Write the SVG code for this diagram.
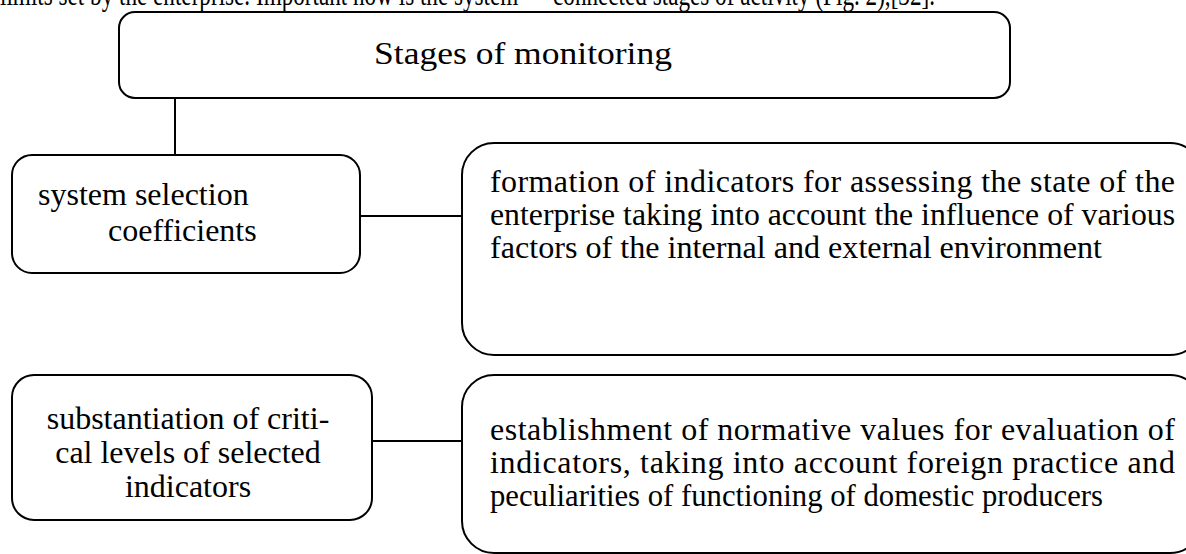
<svg xmlns="http://www.w3.org/2000/svg" width="1186" height="554" viewBox="0 0 1186 554">
<style>
.box{fill:#fff;stroke:#000;stroke-width:2}
.t{font-family:"Liberation Serif","Times New Roman",serif;font-size:32px;fill:#000}
.c{text-anchor:middle}
.ln{stroke:#000;stroke-width:2;fill:none}
</style>
<rect width="1186" height="554" fill="#fff"/>
<text class="t" x="0" y="5" font-size="23" textLength="935" lengthAdjust="spacingAndGlyphs">limits set by the enterprise. Important now is the system — connected stages of activity (Fig. 2),[32].</text>
<g id="connectors">
<line class="ln" x1="175" y1="98" x2="175" y2="155"/>
<line class="ln" x1="360" y1="216" x2="462" y2="216"/>
<line class="ln" x1="372" y1="441" x2="462" y2="441"/>
</g>
<g id="stages">
<rect class="box" x="119" y="12" width="891" height="86" rx="16"/>
<text class="t" x="374" y="64" font-size="34" textLength="298" lengthAdjust="spacingAndGlyphs">Stages of monitoring</text>
</g>
<g id="system-selection">
<rect class="box" x="12" y="155" width="348" height="118" rx="20"/>
<text class="t" x="38" y="205">system selection</text>
<text class="t" x="108" y="241">coefficients</text>
</g>
<g id="formation">
<rect class="box" x="462" y="143" width="740" height="212" rx="32"/>
<text class="t" x="490" y="192" textLength="685" lengthAdjust="spacing">formation of indicators for assessing the state of the</text>
<text class="t" x="490" y="225" textLength="685" lengthAdjust="spacingAndGlyphs">enterprise taking into account the influence of various</text>
<text class="t" x="490" y="258" textLength="612" lengthAdjust="spacingAndGlyphs">factors of the internal and external environment</text>
</g>
<g id="substantiation">
<rect class="box" x="12" y="375" width="360" height="145" rx="22"/>
<text class="t c" x="188" y="429">substantiation of criti-</text>
<text class="t c" x="188" y="463">cal levels of selected</text>
<text class="t c" x="188" y="497">indicators</text>
</g>
<g id="establishment">
<rect class="box" x="462" y="375" width="740" height="178" rx="32"/>
<text class="t" x="490" y="440" textLength="685" lengthAdjust="spacing">establishment of normative values for evaluation of</text>
<text class="t" x="490" y="473" textLength="685" lengthAdjust="spacing">indicators, taking into account foreign practice and</text>
<text class="t" x="490" y="506" textLength="613" lengthAdjust="spacingAndGlyphs">peculiarities of functioning of domestic producers</text>
</g>
</svg>
